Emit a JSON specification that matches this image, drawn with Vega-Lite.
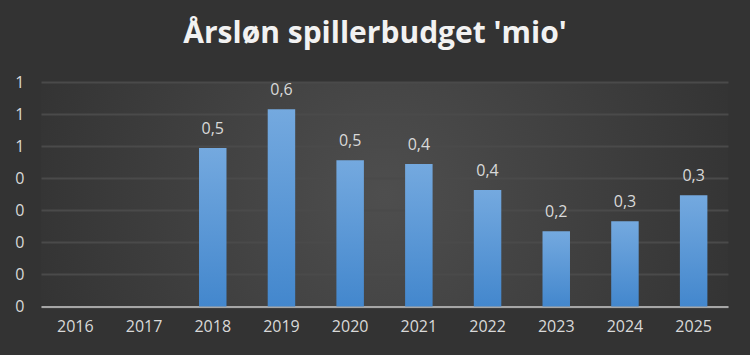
{
  "$schema": "https://vega.github.io/schema/vega-lite/v6.json",
  "width": 687,
  "height": 224.5,
  "autosize": {"type": "none"},
  "padding": {"left": 41, "top": 82, "right": 22, "bottom": 48.5},
  "background": "#333333",
  "title": {
    "text": "Årsløn spillerbudget 'mio'",
    "font": "Open Sans",
    "fontSize": 30,
    "fontWeight": "bold",
    "color": "#f2f2f2",
    "anchor": "middle",
    "frame": "group",
    "dx": -9.5,
    "baseline": "alphabetic",
    "offset": 1
  },
  "data": {
    "values": [
      {"year": "2016", "v": null},
      {"year": "2017", "v": null},
      {"year": "2018", "v": 0.494},
      {"year": "2019", "v": 0.615},
      {"year": "2020", "v": 0.456},
      {"year": "2021", "v": 0.444},
      {"year": "2022", "v": 0.363},
      {"year": "2023", "v": 0.235},
      {"year": "2024", "v": 0.266},
      {"year": "2025", "v": 0.347}
    ]
  },
  "encoding": {
    "x": {
      "field": "year",
      "type": "ordinal",
      "scale": {
        "domain": ["2016", "2017", "2018", "2019", "2020", "2021", "2022", "2023", "2024", "2025"],
        "paddingInner": 0.6,
        "paddingOuter": 0.3
      },
      "axis": {
        "title": null,
        "labelAngle": 0,
        "ticks": false,
        "domainColor": "#a6a6a6",
        "domainWidth": 2,
        "labelPadding": 12,
        "labelFont": "Open Sans",
        "labelFontSize": 16,
        "labelColor": "#d9d9d9"
      }
    },
    "y": {
      "field": "v",
      "type": "quantitative",
      "scale": {"domain": [0, 0.7], "nice": false},
      "axis": {
        "title": null,
        "values": [0, 0.1, 0.2, 0.3, 0.4, 0.5, 0.6, 0.7],
        "format": ".0f",
        "domain": false,
        "ticks": false,
        "grid": true,
        "gridColor": "#4a4a4a",
        "gridWidth": 2,
        "labelPadding": 17,
        "labelFont": "Open Sans",
        "labelFontSize": 16,
        "labelColor": "#d9d9d9"
      }
    }
  },
  "layer": [
    {
      "mark": {
        "type": "bar",
        "color": {
          "gradient": "linear",
          "x1": 0, "y1": 0, "x2": 0, "y2": 1,
          "stops": [
            {"offset": 0, "color": "#74a9df"},
            {"offset": 1, "color": "#4387cd"}
          ]
        }
      }
    },
    {
      "transform": [{"filter": "datum.v != null"}],
      "mark": {
        "type": "text",
        "baseline": "alphabetic",
        "dy": -14,
        "font": "Open Sans",
        "fontSize": 16,
        "color": "#d9d9d9"
      },
      "encoding": {
        "text": {"field": "v", "type": "quantitative", "format": ".1f"}
      }
    }
  ],
  "config": {
    "locale": {
      "number": {"decimal": ",", "thousands": ".", "grouping": [3], "currency": ["", " kr."]}
    },
    "view": {
      "stroke": null,
      "fill": {
        "gradient": "radial",
        "x1": 0.5, "y1": 0.5, "x2": 0.5, "y2": 0.5,
        "r1": 0, "r2": 0.7,
        "stops": [
          {"offset": 0, "color": "#4e4e4e"},
          {"offset": 1, "color": "#2b2b2b"}
        ]
      }
    }
  }
}
